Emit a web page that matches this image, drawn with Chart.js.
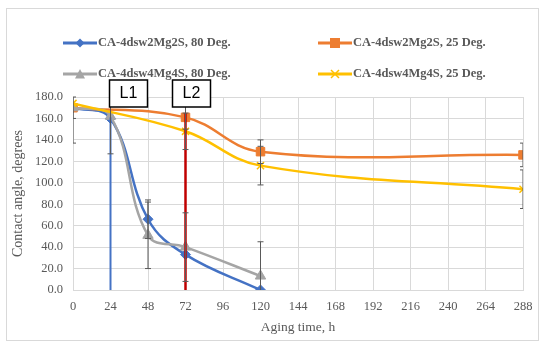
<!DOCTYPE html>
<html>
<head>
<meta charset="utf-8">
<script src="https://cdn.jsdelivr.net/npm/chart.js@4.4.0/dist/chart.umd.min.js"></script>
<style>
    body { margin: 0; background: #fff; }
    #wrap { position: relative; width: 550px; height: 348px; }
    #frame { position: absolute; left: 6px; top: 8px; width: 533px; height: 333px; border: 1px solid #d9d9d9; box-sizing: border-box; }
    #legend { position: absolute; left: 0; top: 0; font: bold 12.5px "Liberation Serif", serif; color: #595959; }
    .item { position: absolute; display: flex; align-items: center; white-space: nowrap; }
    .item svg { margin-right: 1px; }
</style>
</head>
<body>
<div id="wrap">
    <div id="frame"></div>
    <canvas id="chart" width="550" height="348"></canvas>
    <div id="legend"></div>
</div>
<script>
// Datos.
const SERIES_NAMES = ['CA-4dsw2Mg2S, 80 Deg.', 'CA-4dsw2Mg2S, 25 Deg.', 'CA-4dsw4Mg4S, 80 Deg.', 'CA-4dsw4Mg4S, 25 Deg.'];
const SERIES_COLORS = ['#4472C4', '#ED7D31', '#A5A5A5', '#FFC000'];
const SERIES_POINTS = ['rectRot', 'rect', 'triangle', 'crossRot'];

// Tiempo (h), ángulo (grados) y barra de error de cada serie.
const blueTime = [0, 24, 48, 72, 120];
const blueAngle = [170, 160, 66, 33, 0];
const blueError = [33, 33, 18, 0, 0];

const orangeTime = [0, 72, 120, 288];
const orangeAngle = [170, 161, 129, 126];
const orangeError = [0, 11, 11, 11];

const grayTime = [0, 24, 48, 72, 120];
const grayAngle = [170, 162, 51, 40, 13];
const grayError = [10, 0, 31, 32, 32];

const yellowTime = [0, 72, 120, 288];
const yellowAngle = [174, 148, 116, 94];
const yellowError = [0, 17, 18, 18];

// Líneas verticales L1 y L2.
const markerNames = ['L1', 'L2'];
const markerTime = [24, 72];
const markerTop = [161, 165];
const markerColors = ['#4472C4', '#C00000'];

const X_TICKS = [0, 24, 48, 72, 96, 120, 144, 168, 192, 216, 240, 264, 288];

const toPoints = (xs, ys) => xs.map((x, i) => ({ x: x, y: ys[i] }));

const SERIES = [
    { time: blueTime, angle: blueAngle, error: blueError, order: 4 },
    { time: orangeTime, angle: orangeAngle, error: orangeError, order: 3 },
    { time: grayTime, angle: grayAngle, error: grayError, order: 2 },
    { time: yellowTime, angle: yellowAngle, error: yellowError, order: 1 }
];

const datasets = SERIES.map((s, i) => ({
    label: SERIES_NAMES[i],
    data: toPoints(s.time, s.angle),
    errors: s.error,
    borderColor: SERIES_COLORS[i],
    backgroundColor: SERIES_COLORS[i],
    pointStyle: SERIES_POINTS[i],
    pointRadius: i === 3 ? 5 : (i === 0 ? 5 : 6),
    pointBorderWidth: i === 3 ? 1.5 : 1,
    borderWidth: 2.5,
    showLine: true,
    tension: 0.4,
    order: s.order
}));

markerTime.forEach((t, i) => {
    datasets.push({
        label: markerNames[i],
        data: [{ x: t, y: 0 }, { x: t, y: markerTop[i] }],
        borderColor: markerColors[i],
        borderWidth: i === 0 ? 2 : 2.5,
        pointRadius: 0,
        showLine: true,
        tension: 0,
        order: 0
    });
});

// Plugin para dibujar las barras de error con las escalas del gráfico.
const errorBars = {
    id: 'errorBars',
    afterDatasetsDraw(chart) {
        const { ctx, chartArea, scales } = chart;
        ctx.save();
        ctx.beginPath();
        ctx.rect(chartArea.left, chartArea.top - 1, chartArea.width, chartArea.height + 2);
        ctx.clip();
        ctx.strokeStyle = '#595959';
        ctx.lineWidth = 1;
        chart.data.datasets.forEach(ds => {
            if (!ds.errors) return;
            ds.data.forEach((p, i) => {
                const e = ds.errors[i];
                if (!e) return;
                const x = scales.x.getPixelForValue(p.x);
                const y1 = scales.y.getPixelForValue(Math.min(p.y + e, 180));
                const y2 = scales.y.getPixelForValue(Math.max(p.y - e, 0));
                ctx.beginPath();
                ctx.moveTo(x, y1);
                ctx.lineTo(x, y2);
                if (p.y + e <= 180) { ctx.moveTo(x - 3, y1); ctx.lineTo(x + 3, y1); }
                if (p.y - e >= 0) { ctx.moveTo(x - 3, y2); ctx.lineTo(x + 3, y2); }
                ctx.stroke();
            });
        });
        ctx.restore();

        // Cuadros de texto L1 y L2.
        ctx.save();
        ctx.font = '16px "Liberation Sans", sans-serif';
        ctx.textAlign = 'center';
        ctx.textBaseline = 'middle';
        const offsets = [-1, -13];
        markerTime.forEach((t, i) => {
            const left = scales.x.getPixelForValue(t) + offsets[i];
            const top = 80;
            ctx.fillStyle = '#fff';
            ctx.fillRect(left, top, 38, 27);
            ctx.strokeStyle = '#000';
            ctx.lineWidth = 1.5;
            ctx.strokeRect(left, top, 38, 27);
            ctx.fillStyle = '#000';
            ctx.fillText(markerNames[i], left + 19, top + 14);
        });
        ctx.restore();
    }
};

new Chart(document.getElementById('chart'), {
    type: 'scatter',
    data: { datasets: datasets },
    options: {
        responsive: false,
        animation: false,
        layout: { padding: { left: 0, top: 97, right: 27, bottom: 8 } },
        plugins: { legend: { display: false }, tooltip: { enabled: false } },
        scales: {
            x: {
                type: 'linear',
                min: 0,
                max: 288,
                afterBuildTicks: axis => { axis.ticks = X_TICKS.map(v => ({ value: v })); },
                afterFit: axis => { axis.height = 50; },
                grid: { color: '#d9d9d9', drawTicks: false },
                border: { color: '#d9d9d9' },
                ticks: { color: '#595959', font: { family: 'Liberation Serif', size: 12.5 }, padding: 9, maxRotation: 0 },
                title: { display: true, text: 'Aging time, h', color: '#595959', font: { family: 'Liberation Serif', size: 13.5 }, padding: { top: 2 } }
            },
            y: {
                min: 0,
                max: 180,
                afterFit: axis => { axis.width = 73; },
                grid: { color: '#d9d9d9', drawTicks: false },
                border: { display: false },
                ticks: { stepSize: 20, color: '#595959', font: { family: 'Liberation Serif', size: 12.5 }, padding: 10, callback: v => v.toFixed(1) },
                title: { display: true, text: 'Contact angle, degrees', color: '#595959', font: { family: 'Liberation Serif', size: 14 }, padding: { top: 10, bottom: 0 } }
            }
        }
    },
    plugins: [errorBars]
});

// Leyenda en dos columnas, construida con los arreglos de las series.
const LEGEND_POS = [[63, 43], [318, 43], [63, 74], [318, 74]];
const markerSvg = (style, color) => {
    let shape = '';
    if (style === 'rectRot') shape = `<polygon points="17,1.5 21.5,6 17,10.5 12.5,6" fill="${color}"/>`;
    if (style === 'rect') shape = `<rect x="12" y="1" width="10" height="10" fill="${color}"/>`;
    if (style === 'triangle') shape = `<polygon points="17,1 22,10.5 12,10.5" fill="${color}"/>`;
    if (style === 'crossRot') shape = `<path d="M13,2 L21,10 M21,2 L13,10" stroke="${color}" stroke-width="1.5"/>`;
    return `<svg width="34" height="12"><line x1="0" y1="6" x2="34" y2="6" stroke="${color}" stroke-width="3"/>${shape}</svg>`;
};
const legend = document.getElementById('legend');
SERIES_NAMES.forEach((name, i) => {
    const item = document.createElement('div');
    item.className = 'item';
    item.style.left = LEGEND_POS[i][0] + 'px';
    item.style.top = (LEGEND_POS[i][1] - 8) + 'px';
    item.innerHTML = markerSvg(SERIES_POINTS[i], SERIES_COLORS[i]) + '<span>' + name + '</span>';
    legend.appendChild(item);
});
</script>
</body>
</html>
